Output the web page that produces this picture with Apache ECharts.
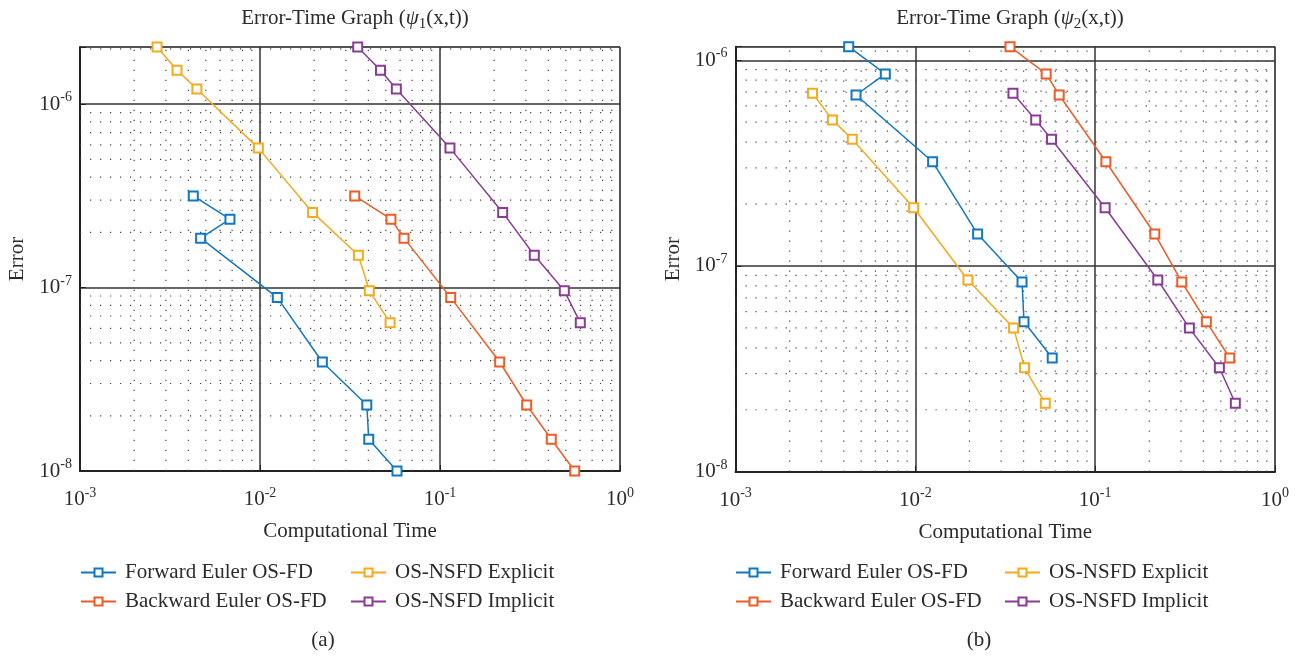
<!DOCTYPE html>
<html>
<head>
<meta charset="utf-8">
<script src="https://cdn.jsdelivr.net/npm/echarts@6/dist/echarts.min.js"></script>
<style>
html,body{margin:0;padding:0;background:#fff;}
#chart{width:1301px;height:656px;}
</style>
</head>
<body>
<div id="chart"></div>
<script>
// ---- data (computational time shared by both panels) ----
const methodNames = ['Forward Euler OS-FD', 'Backward Euler OS-FD', 'OS-NSFD Explicit', 'OS-NSFD Implicit'];
const tForward  = [0.00426, 0.00681, 0.00468, 0.01248, 0.0222, 0.0392, 0.0402, 0.0577];
const tBackward = [0.0336, 0.0534, 0.0631, 0.1147, 0.2146, 0.3031, 0.4152, 0.5603];
const tExplicit = [0.00268, 0.00346, 0.00446, 0.00979, 0.0196, 0.0352, 0.0405, 0.0528];
const tImplicit = [0.0349, 0.0467, 0.0572, 0.1136, 0.2230, 0.3341, 0.4905, 0.6017];
// errors, panel (a) psi1 and panel (b) psi2
const err1FD   = [3.16e-7, 2.36e-7, 1.86e-7, 8.82e-8, 3.93e-8, 2.29e-8, 1.49e-8, 1.0e-8];
const err1NSFD = [2.05e-6, 1.53e-6, 1.21e-6, 5.76e-7, 2.57e-7, 1.50e-7, 9.6e-8, 6.44e-8];
const err2FD   = [1.164e-6, 8.58e-7, 6.78e-7, 3.21e-7, 1.43e-7, 8.36e-8, 5.36e-8, 3.57e-8];
const err2NSFD = [6.91e-7, 5.13e-7, 4.13e-7, 1.92e-7, 8.55e-8, 4.99e-8, 3.2e-8, 2.15e-8];
const xRange = [1e-3, 1];
const yRangeA = [1e-8, 2.05e-6];
const yRangeB = [1e-8, 1.164e-6];
const titles = ['ψ|1', 'ψ|2'];
const captions = ['(a)', '(b)'];

const colors = ['#1077C3', '#EF5B25', '#F5AA1C', '#8A3B96'];
const FONT = '"Liberation Serif", "DejaVu Serif", serif';
const TXT = '#2b2b2b';
const FS = 21;

function zip(xs, ys) { return xs.map((x, i) => [x, ys[i]]); }
function minorValues(lo, hi) {
  const out = [];
  for (let k = Math.floor(Math.log10(lo)); k <= Math.ceil(Math.log10(hi)); k++) {
    for (let m = 2; m <= 9; m++) {
      const v = m * Math.pow(10, k);
      if (v > lo * 1.0001 && v < hi * 0.9999) out.push(v);
    }
  }
  return out;
}
function powLabel(v) {
  const l = Math.log10(v), e = Math.round(l);
  if (Math.abs(l - e) > 1e-6) return '';
  return '{b|10}{s|' + e + '}';
}
const labelRich = {
  b: {fontFamily: FONT, fontSize: FS, color: TXT, lineHeight: 27},
  s: {fontFamily: FONT, fontSize: 14, color: TXT, lineHeight: 14, verticalAlign: 'top'}
};

const grids = [
  {left: 80, top: 47, width: 540, height: 424},
  {left: 735.5, top: 46.7, width: 539.5, height: 425}
];
const yRanges = [yRangeA, yRangeB];
const errs = [[err1FD, err1FD, err1NSFD, err1NSFD], [err2FD, err2FD, err2NSFD, err2NSFD]];
const times = [tForward, tBackward, tExplicit, tImplicit];

const option = {
  backgroundColor: '#fff',
  animation: false,
  title: [0, 1].map(i => {
    const p = titles[i].split('|');
    return {
      text: '{t|Error-Time Graph (}{p|' + p[0] + '}{u|' + p[1] + '}{t|(x,t))}',
      left: i === 0 ? 350 : 1005, top: 0, textAlign: 'center',
      textStyle: {
        fontWeight: 'normal',
        rich: {
          t: {fontFamily: FONT, fontSize: FS, fontWeight: 'normal', color: TXT, lineHeight: 27},
          p: {fontFamily: FONT, fontSize: FS, fontWeight: 'normal', fontStyle: 'italic', color: TXT, lineHeight: 27},
          u: {fontFamily: FONT, fontSize: 15, fontWeight: 'normal', color: TXT, lineHeight: 15, verticalAlign: 'bottom'}
        }
      }
    };
  }).concat([0, 1].map(i => ({
    text: captions[i], left: i === 0 ? 318 : 974, top: 625, textAlign: 'center',
    textStyle: {fontFamily: FONT, fontSize: FS, fontWeight: 'normal', color: TXT}
  }))),
  grid: grids.map(g => Object.assign({show: true, borderColor: '#666', borderWidth: 1, backgroundColor: 'transparent'}, g)),
  xAxis: [0, 1].map(i => ({
    type: 'log', logBase: 10, gridIndex: i, min: xRange[0], max: xRange[1], splitNumber: 3,
    name: 'Computational Time', nameLocation: 'middle', nameGap: 50,
    nameTextStyle: {fontFamily: FONT, fontSize: FS, color: TXT},
    axisLine: {show: true, onZero: false, lineStyle: {color: '#222', width: 2}},
    axisTick: {show: true, inside: true, length: 6, lineStyle: {color: '#222'}},
    axisLabel: {margin: 15, formatter: powLabel, rich: labelRich},
    splitLine: {show: true, lineStyle: {color: '#333', width: 1.5}}
  })),
  yAxis: [0, 1].map(i => ({
    type: 'log', logBase: 10, gridIndex: i, min: yRanges[i][0], max: yRanges[i][1], splitNumber: 3,
    name: 'Error', nameLocation: 'middle', nameGap: 52,
    nameTextStyle: {fontFamily: FONT, fontSize: FS, color: TXT},
    axisLine: {show: true, onZero: false, lineStyle: {color: '#222', width: 2}},
    axisTick: {show: true, inside: true, length: 6, lineStyle: {color: '#222'}},
    axisLabel: {margin: 8, formatter: powLabel, rich: labelRich},
    splitLine: {show: true, lineStyle: {color: '#333', width: 1.5}}
  })),
  legend: [
    {data: [methodNames[0], methodNames[1]], left: 80, top: 562},
    {data: [methodNames[2], methodNames[3]], left: 350, top: 562},
    {data: [methodNames[0], methodNames[1]], left: 735, top: 562},
    {data: [methodNames[2], methodNames[3]], left: 1004, top: 562}
  ].map(l => Object.assign({
    orient: 'vertical', itemWidth: 35, itemHeight: 10, itemGap: 8, padding: 0,
    selectedMode: false,
    textStyle: {fontFamily: FONT, fontSize: FS, color: TXT, padding: [0, 0, 0, 4]}
  }, l)),
  series: []
};

// minor dotted grid lines (segments drawn through the log axes, broken by '-')
[0, 1].forEach(i => {
  const vData = [];
  minorValues(xRange[0], xRange[1]).forEach(v => { vData.push([v, yRanges[i][0]], [v, yRanges[i][1]], '-'); });
  const hData = [];
  minorValues(yRanges[i][0], yRanges[i][1]).forEach(v => { hData.push([xRange[0], v], [xRange[1], v], '-'); });
  [vData, hData].forEach(d => {
    option.series.push({
      type: 'line', xAxisIndex: i, yAxisIndex: i, data: d, z: 1, silent: true,
      symbol: 'none', connectNulls: false, clip: false,
      lineStyle: {color: '#444', width: 1.2, type: [1.2, 8.8]},
      emphasis: {disabled: true}, tooltip: {show: false}
    });
  });
});

[0, 1].forEach(i => {
  for (let s = 0; s < 4; s++) {
    option.series.push({
      name: methodNames[s], type: 'line', xAxisIndex: i, yAxisIndex: i, z: 3,
      data: zip(times[s], errs[i][s]),
      symbol: 'emptyRect', symbolSize: 9, clip: false,
      lineStyle: {color: colors[s], width: 1.5},
      itemStyle: {color: colors[s], borderColor: colors[s], borderWidth: 1.5},
      emphasis: {disabled: true}
    });
  }
});

const chart = echarts.init(document.getElementById('chart'), null, {renderer: 'canvas'});
chart.setOption(option);
</script>
</body>
</html>
